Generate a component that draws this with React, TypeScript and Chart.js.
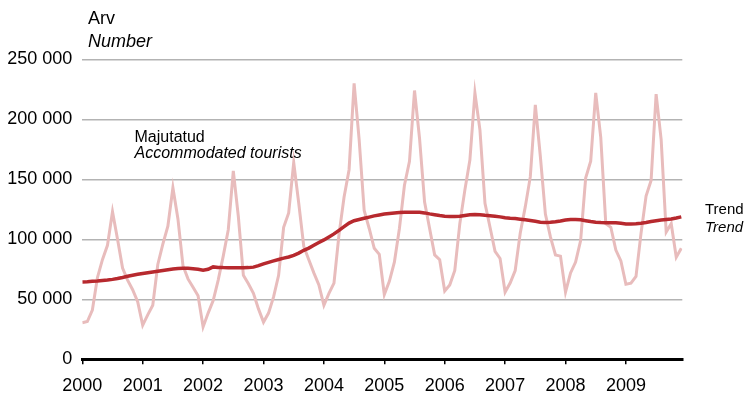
import React, { useEffect, useRef } from "react";
import { Chart, registerables } from "chart.js";

Chart.register(...registerables);

const years = [2000, 2001, 2002, 2003, 2004, 2005, 2006, 2007, 2008, 2009];

const yTicks = [0, 50000, 100000, 150000, 200000, 250000];

// Monthly accommodated tourists, Jan 2000 – Dec 2009
const tourists = [
  30500, 31500, 41000, 68000, 83000, 95000, 123000, 100000, 76000, 66000, 58000, 48000,
  28500, 37000, 45000, 79000, 96000, 111000, 143000, 117000, 78000, 67000, 60000, 53000,
  27000, 38500, 49000, 66000, 86000, 108000, 157000, 119000, 70000, 63000, 55000, 42000,
  31000, 38500, 52000, 70000, 110000, 122000, 164000, 130000, 94000, 83000, 72000, 62000,
  45000, 55000, 63500, 104000, 135000, 158000, 230000, 183000, 124000, 109000, 92500, 87500,
  54000, 65000, 81000, 109000, 145000, 165000, 224000, 184000, 131000, 109000, 87000, 83000,
  57000, 62000, 74000, 113000, 141000, 166000, 222000, 191000, 130000, 110000, 90000, 84000,
  56000, 63500, 74000, 105000, 127000, 152000, 212000, 169000, 121000, 102000, 87000, 86000,
  56000, 72000, 81000, 99000, 151000, 165000, 222000, 185000, 113000, 110000, 91000, 82000,
  62500, 63500, 69000, 105000, 136000, 149000, 221000, 183000, 106000, 113000, 85000, 92500,
];

const trend = [
  64500, 64700, 65000, 65300, 65700, 66100, 66600, 67300, 68200, 69200, 70000, 70800,
  71500, 72200, 72800, 73400, 74000, 74600, 75200, 75600, 75800, 75800, 75500, 75000,
  74300, 75000, 77000, 76600, 76400, 76300, 76300, 76300, 76300, 76400, 76800, 78000,
  79500, 80800, 82000, 83200, 84300, 85300, 86600, 88500, 90800, 92700, 95000, 97300,
  99500, 102000, 104500, 107500, 110500, 113500, 115500, 116500, 117500, 118500, 119500, 120300,
  121000, 121500, 122000, 122300, 122500, 122600, 122600, 122500, 122000, 121200, 120500, 119800,
  119300, 119000, 118900, 119200, 119800, 120400, 120600, 120400, 120000, 119700, 119200, 118700,
  118000, 117600, 117300, 116800, 116300, 115700, 115000, 114300, 114000, 114200, 114600, 115200,
  116000, 116500, 116500, 116200, 115500, 114800, 114200, 113900, 113800, 113800, 113700, 113300,
  112800, 112700, 112900, 113300, 114000, 114800, 115500, 116000, 116500, 117000, 117800, 118700,
];

const FONT = '"Liberation Sans", Arial, sans-serif';

const fmt = (v: number) => String(v).replace(/\B(?=(\d{3})+(?!\d))/g, " ");

const textPlugin = {
  id: "annotTexts",
  afterDraw(chart: any) {
    const ctx = chart.ctx;
    ctx.save();
    ctx.fillStyle = "#000";
    ctx.textAlign = "left";
    ctx.textBaseline = "alphabetic";
    ctx.font = `18px ${FONT}`;
    ctx.fillText("Arv", 88, 23.5);
    ctx.font = `italic 18px ${FONT}`;
    ctx.fillText("Number", 88, 46.5);
    ctx.font = `16px ${FONT}`;
    ctx.fillText("Majutatud", 134.5, 141.7);
    ctx.font = `italic 16px ${FONT}`;
    ctx.fillText("Accommodated tourists", 134.5, 157.7);
    ctx.font = `15px ${FONT}`;
    ctx.fillText("Trend", 705, 214.3);
    ctx.font = `italic 15px ${FONT}`;
    ctx.fillText("Trend", 705, 232.3);
    ctx.restore();
  },
};

export default function App() {
  const ref = useRef<HTMLCanvasElement | null>(null);

  useEffect(() => {
    if (!ref.current) return;
    const months = tourists.map((_, i) => i);
    const chart = new Chart(ref.current, {
      type: "line",
      data: {
        datasets: [
          {
            label: "Trend",
            data: months.map((m) => ({ x: m, y: trend[m] })),
            borderColor: "#b7292e",
            borderWidth: 3.5,
            pointRadius: 0,
            tension: 0,
          },
          {
            label: "Majutatud",
            data: months.map((m) => ({ x: m, y: tourists[m] })),
            borderColor: "#e8bcbc",
            borderWidth: 3,
            pointRadius: 0,
            tension: 0,
          },
        ],
      },
      options: {
        animation: false,
        responsive: false,
        devicePixelRatio: 1,
        layout: { padding: { top: 59.3, right: 64.7, left: 0, bottom: 0 } },
        plugins: {
          legend: { display: false },
          tooltip: { enabled: false },
        },
        scales: {
          x: {
            type: "linear",
            min: 0,
            max: 119.2,
            afterBuildTicks: (s: any) => {
              s.ticks = years.map((_, k) => ({ value: k * 12 }));
            },
            afterFit: (s: any) => {
              s.height = 34.7;
            },
            ticks: {
              autoSkip: false,
              maxRotation: 0,
              padding: 11,
              color: "#000",
              font: { size: 18, family: FONT },
              callback: (v: any) => String(years[0] + Math.round(Number(v) / 12)),
            },
            grid: {
              drawOnChartArea: false,
              drawTicks: true,
              tickLength: 5,
              color: "#000",
              lineWidth: 1.5,
            },
            border: { display: true, color: "#000", width: 3 },
          },
          y: {
            min: yTicks[0],
            max: yTicks[yTicks.length - 1],
            afterBuildTicks: (s: any) => {
              s.ticks = yTicks.map((v) => ({ value: v }));
            },
            afterFit: (s: any) => {
              s.width = 82.3;
            },
            ticks: {
              padding: 10,
              color: "#000",
              font: { size: 18, family: FONT },
              callback: (v: any) => fmt(Number(v)),
            },
            grid: {
              drawTicks: false,
              color: (c: any) => (c.tick && c.tick.value === 0 ? "rgba(0,0,0,0)" : "#b3b3b3"),
              lineWidth: 1.5,
            },
            border: { display: false },
          },
        },
      },
      plugins: [textPlugin],
    });
    return () => chart.destroy();
  }, []);

  return (
    <div style={{ position: "absolute", left: 0, top: 0, width: 747, height: 394, background: "#fff" }}>
      <canvas ref={ref} width={747} height={394} style={{ display: "block" }} />
    </div>
  );
}
